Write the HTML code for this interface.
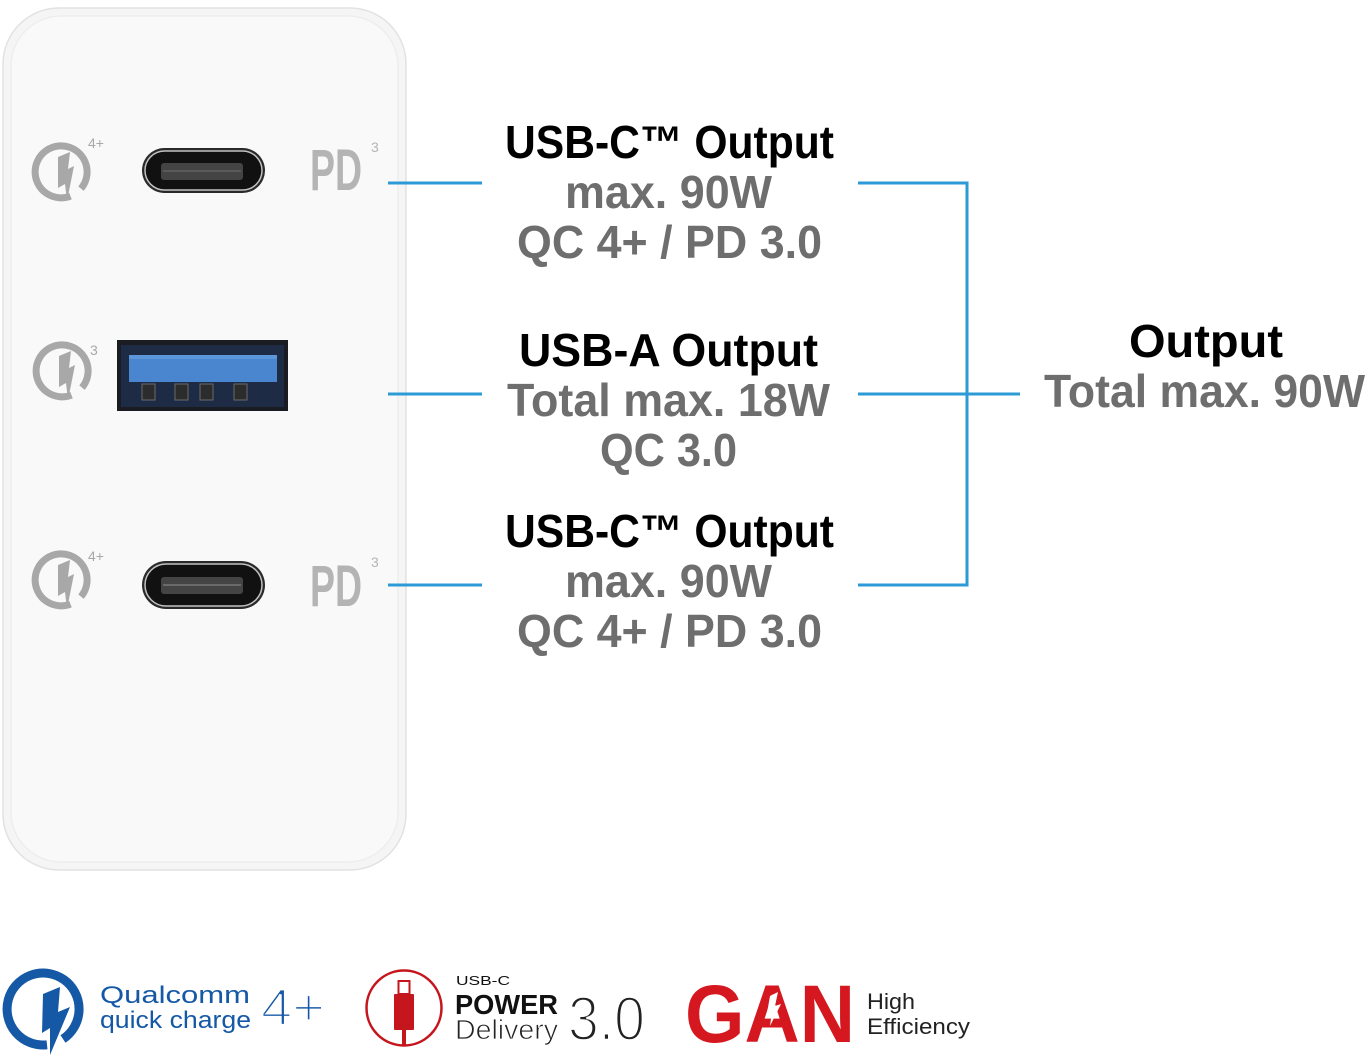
<!DOCTYPE html>
<html>
<head>
<meta charset="utf-8">
<style>
html,body{margin:0;padding:0;background:#fff;}
body{width:1370px;height:1058px;overflow:hidden;}
svg{display:block;}
text{font-family:"Liberation Sans",Arial,sans-serif;}
</style>
</head>
<body>
<svg width="1370" height="1058" viewBox="0 0 1370 1058" xmlns="http://www.w3.org/2000/svg">
  <rect x="0" y="0" width="1370" height="1058" fill="#ffffff"/>

  <!-- Charger body -->
  <rect x="3" y="8" width="403" height="862" rx="56" ry="56" fill="#f5f5f5" stroke="#e2e2e2" stroke-width="1.5"/>
  <rect x="11" y="16" width="387" height="846" rx="50" ry="50" fill="#f9f9f9" stroke="#ececec" stroke-width="1.2"/>

  <!-- QC icons on charger -->
  <g>
    <g transform="translate(61,172)">
      <path d="M 9.5 24.1 A 26 26 0 1 1 20 16.6" stroke="#a8a8a8" stroke-width="7" fill="none"/>
      <polygon points="-3,-15 9,-20 7,-3 13,-6 6,29 4,12 -3,16" fill="#a8a8a8"/>
    </g>
    <text x="88" y="148" font-size="14" fill="#a8a8a8">4+</text>
    <g transform="translate(62,371)">
      <path d="M 9.5 24.1 A 26 26 0 1 1 20 16.6" stroke="#a8a8a8" stroke-width="7" fill="none"/>
      <polygon points="-3,-15 9,-20 7,-3 13,-6 6,29 4,12 -3,16" fill="#a8a8a8"/>
    </g>
    <text x="90" y="355" font-size="14" fill="#a8a8a8">3</text>
    <g transform="translate(61,580)">
      <path d="M 9.5 24.1 A 26 26 0 1 1 20 16.6" stroke="#a8a8a8" stroke-width="7" fill="none"/>
      <polygon points="-3,-15 9,-20 7,-3 13,-6 6,29 4,12 -3,16" fill="#a8a8a8"/>
    </g>
    <text x="88" y="561" font-size="14" fill="#a8a8a8">4+</text>
  </g>

  <!-- PD labels on charger -->
  <text x="310" y="190" font-size="58" font-weight="bold" fill="#b4b4b4" textLength="52" lengthAdjust="spacingAndGlyphs">PD</text>
  <text x="371" y="152" font-size="14" fill="#b4b4b4">3</text>
  <text x="310" y="606" font-size="58" font-weight="bold" fill="#b4b4b4" textLength="52" lengthAdjust="spacingAndGlyphs">PD</text>
  <text x="371" y="567" font-size="14" fill="#b4b4b4">3</text>

  <!-- USB-C port top -->
  <rect x="142" y="148" width="123" height="45" rx="22.5" fill="#2a2a2a"/>
  <rect x="145" y="151" width="117" height="39" rx="19.5" fill="#111111" stroke="#c2c2c2" stroke-width="1.5"/>
  <rect x="161" y="163" width="82" height="17" rx="3" fill="#444444"/>
  <rect x="163" y="170" width="78" height="2" fill="#5a5a5a"/>

  <!-- USB-C port bottom -->
  <rect x="142" y="561" width="123" height="48" rx="24" fill="#2a2a2a"/>
  <rect x="145" y="564" width="117" height="42" rx="21" fill="#111111" stroke="#c2c2c2" stroke-width="1.5"/>
  <rect x="161" y="577" width="82" height="17" rx="3" fill="#444444"/>
  <rect x="163" y="584" width="78" height="2" fill="#6a6a6a"/>

  <!-- USB-A port -->
  <rect x="117" y="340" width="171" height="71" fill="#1a1c22"/>
  <rect x="121" y="345" width="163" height="62" fill="#1e2b44"/>
  <rect x="129" y="355" width="148" height="27" fill="#4a86cf"/>
  <rect x="129" y="355" width="148" height="4" fill="#5b95da"/>
  <rect x="142" y="384" width="13" height="16" fill="#2c2c2c" stroke="#6a6a6a" stroke-width="1"/>
  <rect x="175" y="384" width="13" height="16" fill="#2c2c2c" stroke="#6a6a6a" stroke-width="1"/>
  <rect x="200" y="384" width="13" height="16" fill="#2c2c2c" stroke="#6a6a6a" stroke-width="1"/>
  <rect x="234" y="384" width="13" height="16" fill="#2c2c2c" stroke="#6a6a6a" stroke-width="1"/>

  <!-- Connectors -->
  <g stroke="#2b9ad6" stroke-width="3" fill="none">
    <path d="M388,183 H482"/>
    <path d="M858,183 H967 V585 H858"/>
    <path d="M388,394 H482"/>
    <path d="M858,394 H1020"/>
    <path d="M388,585 H482"/>
  </g>

  <!-- Text blocks -->
  <g font-size="46" font-weight="bold">
    <text x="505" y="158" fill="#000" textLength="329" lengthAdjust="spacingAndGlyphs">USB-C™ Output</text>
    <text x="565" y="208" fill="#6e6e6e" textLength="207" lengthAdjust="spacingAndGlyphs">max. 90W</text>
    <text x="517" y="258" fill="#6e6e6e" textLength="305" lengthAdjust="spacingAndGlyphs">QC 4+ / PD 3.0</text>

    <text x="519" y="366" fill="#000" textLength="299" lengthAdjust="spacingAndGlyphs">USB-A Output</text>
    <text x="507" y="416" fill="#6e6e6e" textLength="323" lengthAdjust="spacingAndGlyphs">Total max. 18W</text>
    <text x="600" y="466" fill="#6e6e6e" textLength="137" lengthAdjust="spacingAndGlyphs">QC 3.0</text>

    <text x="505" y="547" fill="#000" textLength="329" lengthAdjust="spacingAndGlyphs">USB-C™ Output</text>
    <text x="565" y="597" fill="#6e6e6e" textLength="207" lengthAdjust="spacingAndGlyphs">max. 90W</text>
    <text x="517" y="647" fill="#6e6e6e" textLength="305" lengthAdjust="spacingAndGlyphs">QC 4+ / PD 3.0</text>

    <text x="1129" y="357" fill="#000" textLength="154" lengthAdjust="spacingAndGlyphs">Output</text>
    <text x="1044" y="407" fill="#6e6e6e" textLength="321" lengthAdjust="spacingAndGlyphs">Total max. 90W</text>
  </g>

  <!-- Qualcomm quick charge logo -->
  <g transform="translate(43,1009)">
    <path d="M 4 35.8 A 36 36 0 1 1 20 30" stroke="#1458a6" stroke-width="9" fill="none"/>
    <polygon points="0,-15 17,-22 15,3 27,-2 7,46 7,19 -1,24" fill="#1458a6"/>
  </g>
  <text x="100" y="1003" font-size="24" fill="#1458a6" textLength="150" lengthAdjust="spacingAndGlyphs">Qualcomm</text>
  <text x="100" y="1028" font-size="24" fill="#1458a6" textLength="151" lengthAdjust="spacingAndGlyphs">quick charge</text>
  <text x="261" y="1025" font-size="52" fill="#1458a6" stroke="#ffffff" stroke-width="2.2" textLength="64" lengthAdjust="spacingAndGlyphs">4+</text>

  <!-- USB-C Power Delivery logo -->
  <circle cx="404" cy="1008" r="37.5" fill="none" stroke="#c4161c" stroke-width="2.5"/>
  <rect x="398.5" y="981" width="11" height="13" fill="none" stroke="#c4161c" stroke-width="2"/>
  <rect x="394" y="994" width="20" height="36" rx="1" fill="#c4161c"/>
  <rect x="402" y="1029" width="4" height="16" fill="#c4161c"/>
  <text x="456" y="985" font-size="13" fill="#111" textLength="54" lengthAdjust="spacingAndGlyphs">USB-C</text>
  <text x="455" y="1014" font-size="28" font-weight="bold" fill="#111" textLength="103" lengthAdjust="spacingAndGlyphs">POWER</text>
  <text x="455" y="1039" font-size="28" fill="#222" stroke="#ffffff" stroke-width="0.8" textLength="103" lengthAdjust="spacingAndGlyphs">Delivery</text>
  <text x="568" y="1040" font-size="62" fill="#222" stroke="#ffffff" stroke-width="2.4" textLength="77" lengthAdjust="spacingAndGlyphs">3.0</text>

  <!-- GAN logo -->
  <text x="685" y="1042" font-size="82" font-weight="bold" fill="#d5171f" textLength="170" lengthAdjust="spacingAndGlyphs">GAN</text>
  <polygon points="770,996 778,992 775,1006 781,1004 770,1026 772,1011 767,1013" fill="#ffffff"/>
  <text x="867" y="1009" font-size="22" fill="#222" textLength="48" lengthAdjust="spacingAndGlyphs">High</text>
  <text x="867" y="1034" font-size="22" fill="#222" textLength="103" lengthAdjust="spacingAndGlyphs">Efficiency</text>
</svg>
</body>
</html>
